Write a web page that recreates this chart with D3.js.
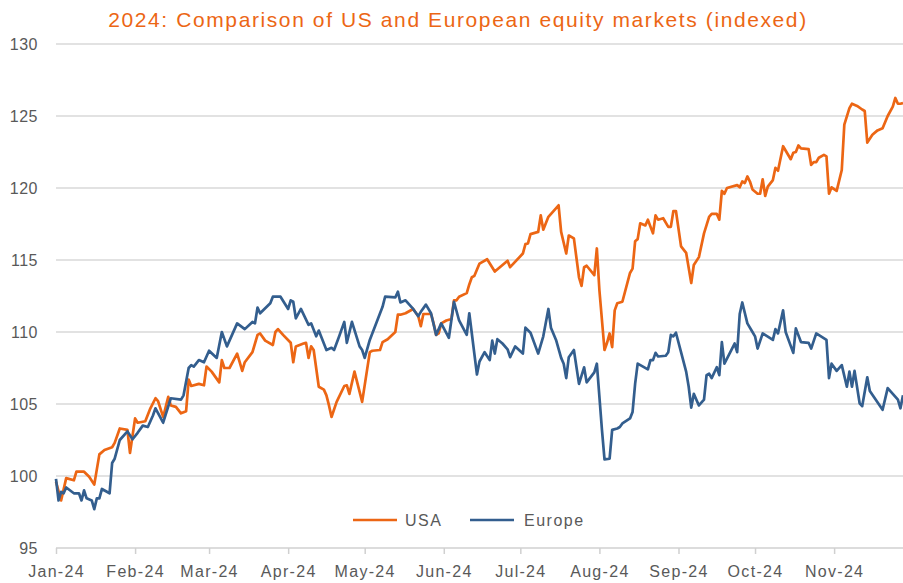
<!DOCTYPE html>
<html>
<head>
<meta charset="utf-8">
<script src="https://cdn.jsdelivr.net/npm/d3@7"></script>
<style>
  body { margin: 0; background: #fff; }
  svg { display: block; font-family: "Liberation Sans", Arial, sans-serif; }
</style>
</head>
<body>
<div id="chart"></div>
<script>
// --- Data (day = days after 1 Jan 2024) ---
const chartTitle = "2024: Comparison of US and European equity markets (indexed)";
const yTicks = [95, 100, 105, 110, 115, 120, 125, 130];
const seriesNames = ["USA", "Europe"];

const usaDays = [0, 2, 4, 7, 8, 11, 13, 15, 17, 19, 22, 23, 25, 28, 29, 31, 32, 35, 37, 39,
  40, 42, 44, 45, 47, 49, 51, 52, 53, 56, 58, 59, 61, 64, 65, 66, 68, 71, 72, 73,
  74, 77, 79, 80, 82, 85, 86, 87, 89, 92, 93, 94, 97, 98, 99, 100, 101, 103, 105, 106,
  107, 108, 110, 113, 114, 115, 117, 120, 123, 124, 127, 128, 130, 133, 134, 135, 137, 140, 142, 143,
  144, 147, 148, 149, 150, 151, 153, 155, 156, 157, 158, 161, 162, 163, 164, 166, 169, 172, 177, 178,
  183, 184, 185, 186, 189, 190, 191, 193, 197, 198, 200, 201, 203, 205, 206, 207, 208, 211, 212, 213,
  215, 216, 217, 218, 219, 220, 222, 225, 226, 227, 228, 229, 231, 232, 234, 235, 236, 238, 240, 241,
  242, 243, 245, 247, 249, 250, 252, 254, 256, 257, 259, 260, 261, 262, 263, 267, 268, 269, 270, 271,
  272, 273, 275, 276, 277, 278, 279, 281, 282, 283, 285, 288, 289, 290, 291, 292, 295, 296, 297, 298,
  299, 301, 302, 303, 304, 306, 308, 309, 311, 312, 314, 316, 317, 318, 320, 322, 324, 326, 328, 329,
  330, 331, 332];
const usaValues = [99.6, 98.3, 99.85, 99.7, 100.3, 100.3, 99.95, 99.4, 101.5, 101.8, 102.0, 102.3, 103.3, 103.2, 101.6, 104.0, 103.7, 103.8, 104.7, 105.4,
  105.2, 104.1, 105.5, 104.9, 104.8, 104.35, 104.5, 106.7, 106.25, 106.4, 106.3, 107.6, 107.25, 106.5, 108.05, 107.5, 107.5, 108.5, 107.9, 107.3,
  107.9, 108.6, 109.8, 109.9, 109.4, 109.1, 110.0, 110.2, 109.8, 109.25, 107.9, 109.0, 109.2, 109.25, 108.2, 109.0, 108.75, 106.2, 106.0, 105.6,
  104.9, 104.1, 105.15, 106.25, 106.3, 105.7, 107.25, 105.15, 108.6, 108.7, 108.75, 109.3, 109.5, 110.0, 111.2, 111.2, 111.3, 111.6, 111.1, 110.4,
  111.25, 111.25, 110.6, 109.8, 109.9, 110.6, 110.8, 110.9, 112.2, 112.2, 112.45, 112.7, 113.3, 113.8, 113.9, 114.75, 115.05, 114.2, 114.95, 114.5,
  115.45, 116.1, 116.15, 116.8, 116.95, 118.1, 117.1, 118.0, 118.8, 116.95, 115.45, 116.7, 116.5, 113.8, 113.2, 114.5, 114.6, 113.95, 115.8, 112.9,
  108.75, 109.25, 109.9, 108.95, 111.5, 112.0, 112.1, 114.1, 114.4, 116.3, 116.45, 117.55, 117.4, 117.8, 116.85, 118.1, 117.8, 117.9, 117.3, 117.3,
  118.4, 118.4, 115.95, 115.5, 113.4, 114.65, 115.2, 116.85, 118.0, 118.2, 118.2, 117.8, 119.8, 119.6, 120.0, 120.2, 120.05, 120.45, 120.35, 120.8,
  120.45, 119.9, 119.6, 119.6, 120.6, 119.45, 120.1, 120.55, 121.4, 121.2, 122.9, 122.0, 122.45, 122.5, 122.95, 122.75, 122.7, 121.6, 121.8, 121.8,
  122.1, 122.3, 122.2, 119.6, 120.05, 119.8, 121.25, 124.4, 125.55, 125.85, 125.7, 125.45, 125.35, 123.15, 123.7, 124.0, 124.15, 125.0, 125.65, 126.25,
  125.85, 125.85, 125.9];

const europeDays = [0, 1, 2, 3, 4, 7, 9, 10, 11, 12, 14, 15, 16, 17, 18, 21, 22, 23, 25, 28,
  30, 32, 34, 36, 38, 39, 42, 45, 49, 50, 52, 53, 54, 56, 58, 60, 63, 65, 67, 71,
  74, 77, 78, 79, 80, 84, 85, 88, 91, 92, 93, 94, 96, 99, 100, 102, 103, 106, 108, 109,
  111, 113, 114, 116, 119, 120, 121, 123, 128, 129, 133, 134, 135, 137, 140, 142, 143, 145, 147, 149,
  150, 151, 154, 156, 158, 161, 162, 165, 166, 168, 170, 171, 172, 173, 175, 177, 178, 180, 183, 184,
  186, 189, 191, 193, 194, 196, 198, 199, 200, 201, 203, 205, 207, 208, 211, 212, 214, 215, 217, 218,
  220, 221, 222, 225, 226, 227, 228, 232, 233, 234, 235, 236, 239, 240, 241, 242, 243, 245, 247, 248,
  249, 250, 252, 254, 255, 256, 257, 259, 260, 261, 262, 266, 267, 268, 269, 271, 273, 274, 275, 277,
  281, 282, 283, 285, 286, 289, 290, 292, 295, 296, 298, 302, 303, 304, 306, 308, 310, 311, 312, 313,
  315, 316, 318, 319, 324, 326, 330, 331, 332];
const europeValues = [99.8, 98.3, 98.9, 98.8, 99.2, 98.8, 98.8, 98.3, 99.0, 98.45, 98.3, 97.7, 98.45, 98.45, 99.1, 98.8, 100.9, 101.2, 102.5, 103.1,
  102.55, 103.0, 103.5, 103.4, 104.2, 104.7, 103.7, 105.4, 105.3, 105.6, 107.5, 107.7, 107.6, 108.05, 107.9, 108.7, 108.2, 110.0, 109.0, 110.6,
  110.2, 110.7, 110.6, 111.7, 111.3, 112.0, 112.45, 112.45, 111.6, 112.2, 112.1, 110.95, 111.6, 110.5, 110.6, 109.7, 110.1, 108.75, 108.9, 108.75,
  109.7, 110.7, 109.25, 110.7, 109.0, 108.75, 108.2, 109.45, 111.75, 112.45, 112.4, 112.8, 112.05, 112.2, 111.6, 111.1, 111.4, 111.9, 111.3, 109.8,
  110.2, 110.6, 109.6, 112.1, 110.8, 109.8, 111.3, 107.05, 107.95, 108.6, 108.05, 109.4, 108.5, 109.5, 109.2, 108.8, 108.25, 109.0, 108.5, 110.3,
  109.95, 108.5, 109.7, 111.6, 110.3, 109.45, 108.2, 107.8, 106.8, 108.25, 108.75, 106.4, 107.55, 106.5, 107.2, 107.8, 103.2, 101.15, 101.2, 103.2,
  103.3, 103.4, 103.65, 104.0, 104.45, 106.4, 107.8, 107.4, 108.05, 108.05, 108.55, 108.3, 108.35, 108.6, 109.8, 109.7, 109.95, 108.6, 107.25, 106.2,
  104.75, 105.7, 104.9, 105.3, 107.0, 107.1, 106.8, 107.55, 107.0, 109.3, 107.8, 109.2, 108.6, 111.25, 112.05, 110.6, 110.0, 109.7, 108.85, 109.9,
  109.45, 110.2, 109.9, 111.5, 110.0, 108.55, 110.25, 109.3, 109.25, 108.85, 109.9, 109.45, 106.8, 107.8, 107.3, 107.7, 106.2, 107.25, 106.2, 107.3,
  105.05, 104.85, 106.85, 105.9, 104.6, 106.1, 105.3, 104.7, 105.6];

// --- Layout ---
const width = 903, height = 583;
const plotLeft = 56, plotRight = 903, plotTop = 44, plotBottom = 548;
const colors = { USA: "#ec6614", Europe: "#335e8e" };
const textGrey = "#595959";

const svg = d3.select("#chart").append("svg")
  .attr("width", width).attr("height", height);

const dayToDate = d => new Date(2024, 0, 1 + d);

const x = d3.scaleTime()
  .domain([dayToDate(0), dayToDate(332)])
  .range([plotLeft, plotRight]);
const y = d3.scaleLinear()
  .domain([95, 130])
  .range([plotBottom, plotTop]);

// gridlines
svg.append("g")
  .selectAll("line")
  .data(yTicks.filter(t => t !== 95))
  .join("line")
  .attr("x1", plotLeft).attr("x2", width)
  .attr("y1", d => y(d)).attr("y2", d => y(d))
  .attr("stroke", "#d9d9d9").attr("stroke-width", 1.5);

// y axis labels
svg.append("g")
  .selectAll("text")
  .data(yTicks)
  .join("text")
  .attr("x", 38).attr("y", d => y(d))
  .attr("dy", "0.35em")
  .attr("text-anchor", "end")
  .attr("fill", textGrey)
  .attr("font-size", 16)
  .attr("letter-spacing", 0.5)
  .text(d => d);

// x axis, one tick per month start
const monthTicks = d3.timeMonth.range(dayToDate(0), dayToDate(306));
const xAxis = svg.append("g")
  .attr("transform", `translate(0,${plotBottom})`)
  .call(d3.axisBottom(x).tickValues(monthTicks).tickFormat(d3.timeFormat("%b-%y")).tickSize(6).tickPadding(12));
xAxis.select(".domain").attr("stroke", "#d0d0d0").attr("stroke-width", 1.5).attr("d", `M${plotLeft},0H${width}`);
xAxis.selectAll(".tick line").attr("stroke", "#d0d0d0").attr("stroke-width", 1.5);
xAxis.selectAll(".tick text")
  .attr("fill", textGrey)
  .attr("font-size", 16)
  .attr("letter-spacing", 1.3)
  .attr("font-family", "\"Liberation Sans\", Arial, sans-serif");

// lines
const line = d3.line()
  .x(d => x(dayToDate(d[0])))
  .y(d => y(d[1]));

const series = [
  { name: "USA", points: d3.zip(usaDays, usaValues) },
  { name: "Europe", points: d3.zip(europeDays, europeValues) }
];

svg.append("g")
  .selectAll("path")
  .data(series)
  .join("path")
  .attr("fill", "none")
  .attr("stroke", d => colors[d.name])
  .attr("stroke-width", 2.7)
  .attr("stroke-linejoin", "round")
  .attr("d", d => line(d.points));

// legend
const legendPos = [{ x: 353, tx: 405 }, { x: 470, tx: 524 }];
const legend = svg.append("g");
seriesNames.forEach((name, i) => {
  legend.append("line")
    .attr("x1", legendPos[i].x).attr("x2", legendPos[i].x + 44)
    .attr("y1", 520).attr("y2", 520)
    .attr("stroke", colors[name]).attr("stroke-width", 2.7);
  legend.append("text")
    .attr("x", legendPos[i].tx).attr("y", 520)
    .attr("dy", "0.35em")
    .attr("fill", textGrey)
    .attr("font-size", 16)
    .attr("letter-spacing", 1.5)
    .text(name);
});

// title
svg.append("text")
  .attr("x", 458).attr("y", 27)
  .attr("text-anchor", "middle")
  .attr("fill", "#ec6614")
  .attr("font-size", 21)
  .attr("letter-spacing", 1.6)
  .text(chartTitle);
</script>
</body>
</html>
